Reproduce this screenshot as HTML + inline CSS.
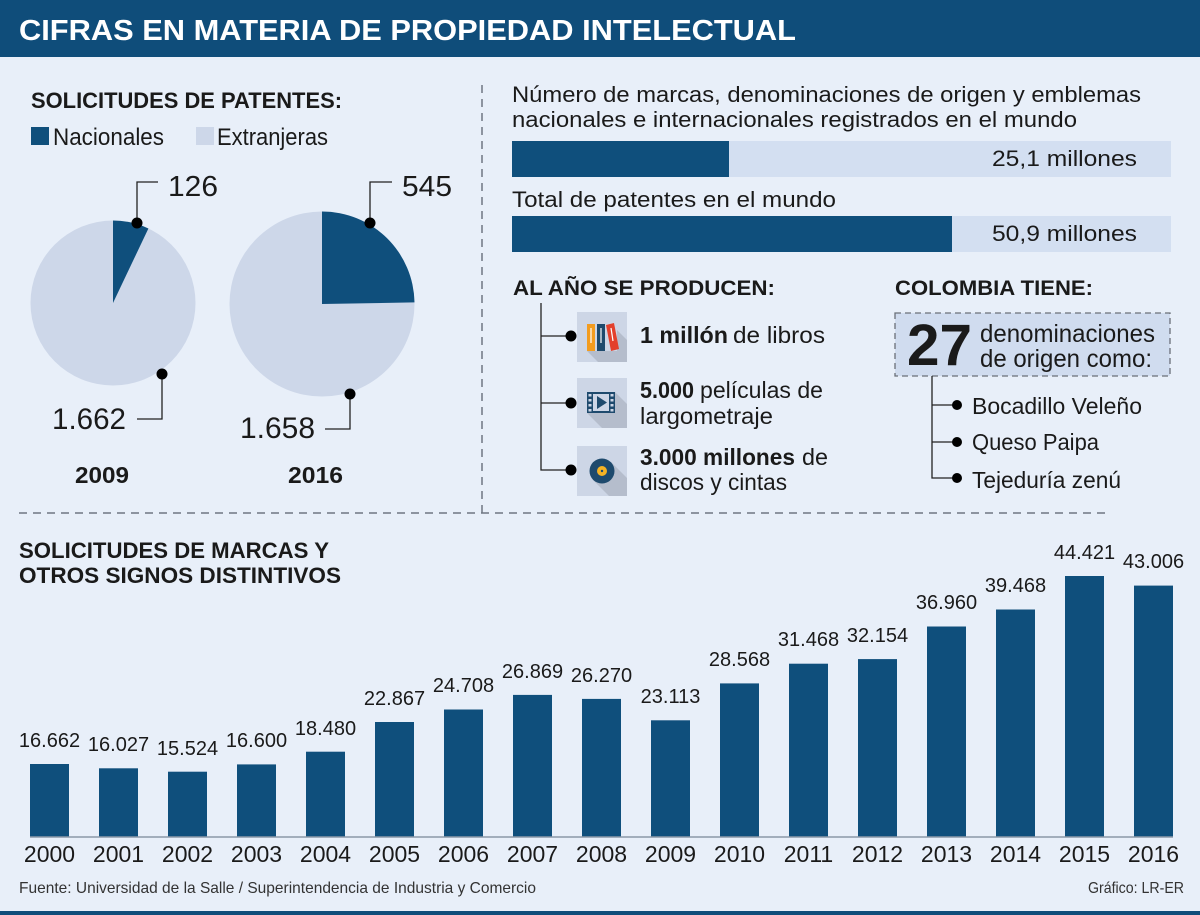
<!DOCTYPE html>
<html><head><meta charset="utf-8"><style>
html,body{margin:0;padding:0;background:#e8eff9;}
svg{display:block;}
text{font-family:"Liberation Sans",sans-serif;fill:#1a1a1a;}
.b{font-weight:bold;}
</style></head><body>
<svg width="1200" height="915" viewBox="0 0 1200 915" xmlns="http://www.w3.org/2000/svg">
<rect x="0" y="0" width="1200" height="915" fill="#e8eff9"/>
<!-- header -->
<rect x="0" y="0" width="1200" height="57" fill="#0f4d7a"/>
<text x="19" y="40" class="b" font-size="29" textLength="777" lengthAdjust="spacingAndGlyphs" style="fill:#fff">CIFRAS EN MATERIA DE PROPIEDAD INTELECTUAL</text>

<!-- dashed separators -->
<line x1="482" y1="85" x2="482" y2="513" stroke="#6f7682" stroke-width="1.5" stroke-dasharray="8,6"/>
<line x1="19" y1="513" x2="1108" y2="513" stroke="#6f7682" stroke-width="1.5" stroke-dasharray="8,6"/>

<!-- patentes -->
<text x="31" y="108" class="b" font-size="22" textLength="311" lengthAdjust="spacingAndGlyphs">SOLICITUDES DE PATENTES:</text>
<rect x="31" y="127" width="18" height="18" fill="#0f4f7c"/>
<text x="53" y="145" font-size="24" textLength="111" lengthAdjust="spacingAndGlyphs">Nacionales</text>
<rect x="196" y="127" width="18" height="18" fill="#cdd7e9"/>
<text x="217" y="145" font-size="24" textLength="111" lengthAdjust="spacingAndGlyphs">Extranjeras</text>

<!-- pie 2009 -->
<circle cx="113" cy="303" r="82.5" fill="#cdd7e9"/>
<path d="M113,303 L113,220.5 A82.5,82.5 0 0 1 148.4,228.5 Z" fill="#0f4f7c"/>
<polyline points="137,223 137,182 158,182" fill="none" stroke="#222" stroke-width="1.3"/>
<circle cx="137" cy="223" r="5.5" fill="#000"/>
<text x="168" y="196" font-size="29" textLength="50" lengthAdjust="spacingAndGlyphs">126</text>
<polyline points="162,374 162,419 137,419" fill="none" stroke="#222" stroke-width="1.3"/>
<circle cx="162" cy="374" r="5.5" fill="#000"/>
<text x="52" y="429" font-size="30" textLength="74" lengthAdjust="spacingAndGlyphs">1.662</text>
<text x="75" y="483" class="b" font-size="23" textLength="54" lengthAdjust="spacingAndGlyphs">2009</text>

<!-- pie 2016 -->
<circle cx="322" cy="304" r="92.5" fill="#cdd7e9"/>
<path d="M322,304 L322,211.5 A92.5,92.5 0 0 1 414.5,302.4 Z" fill="#0f4f7c"/>
<polyline points="370,223 370,182 392,182" fill="none" stroke="#222" stroke-width="1.3"/>
<circle cx="370" cy="223" r="5.5" fill="#000"/>
<text x="402" y="196" font-size="29" textLength="50" lengthAdjust="spacingAndGlyphs">545</text>
<polyline points="350,394 350,429 325,429" fill="none" stroke="#222" stroke-width="1.3"/>
<circle cx="350" cy="394" r="5.5" fill="#000"/>
<text x="240" y="438" font-size="30" textLength="75" lengthAdjust="spacingAndGlyphs">1.658</text>
<text x="288" y="483" class="b" font-size="23" textLength="55" lengthAdjust="spacingAndGlyphs">2016</text>

<!-- top right bars -->
<text x="512" y="102" font-size="22" textLength="629" lengthAdjust="spacingAndGlyphs">Número de marcas, denominaciones de origen y emblemas</text>
<text x="512" y="127" font-size="22" textLength="565" lengthAdjust="spacingAndGlyphs">nacionales e internacionales registrados en el mundo</text>
<rect x="512" y="141" width="659" height="36" fill="#d3dff1"/>
<rect x="512" y="141" width="217" height="36" fill="#0f4f7c"/>
<text x="1137" y="166" font-size="22" text-anchor="end" textLength="145" lengthAdjust="spacingAndGlyphs">25,1 millones</text>
<text x="512" y="207" font-size="22" textLength="324" lengthAdjust="spacingAndGlyphs">Total de patentes en el mundo</text>
<rect x="512" y="216" width="659" height="36" fill="#d3dff1"/>
<rect x="512" y="216" width="440" height="36" fill="#0f4f7c"/>
<text x="1137" y="241" font-size="22" text-anchor="end" textLength="145" lengthAdjust="spacingAndGlyphs">50,9 millones</text>

<!-- AL AÑO SE PRODUCEN -->
<text x="513" y="295" class="b" font-size="21" textLength="262" lengthAdjust="spacingAndGlyphs">AL AÑO SE PRODUCEN:</text>
<polyline points="541,303 541,470 571,470" fill="none" stroke="#222" stroke-width="1.3"/>
<line x1="541" y1="336" x2="571" y2="336" stroke="#222" stroke-width="1.3"/>
<line x1="541" y1="403" x2="571" y2="403" stroke="#222" stroke-width="1.3"/>
<circle cx="571" cy="336" r="5.5" fill="#000"/>
<circle cx="571" cy="403" r="5.5" fill="#000"/>
<circle cx="571" cy="470" r="5.5" fill="#000"/>
<!-- icon 1 books -->
<rect x="577" y="312" width="50" height="50" fill="#cdd6e6"/>
<polygon points="587,351 617,351 617,330 627,340 627,362 598,362" fill="#b5bdcc"/>
<rect x="587" y="324" width="8" height="27" fill="#f39c1f"/>
<rect x="597" y="324" width="8" height="27" fill="#1e4a6d"/>
<polygon points="606,325 614,323 619,349 611,351" fill="#e3402c"/>
<line x1="591" y1="328" x2="591" y2="343" stroke="#fff" stroke-width="1.2"/>
<line x1="601" y1="328" x2="601" y2="343" stroke="#fff" stroke-width="1.2"/>
<line x1="611" y1="328" x2="613" y2="341" stroke="#fff" stroke-width="1.2"/>
<!-- icon 2 film -->
<rect x="577" y="378" width="50" height="50" fill="#cdd6e6"/>
<polygon points="587,413 615,413 615,392 627,404 627,428 602,428" fill="#b5bdcc"/>
<rect x="587" y="392" width="28" height="21" fill="#1e4a6d"/>
<rect x="593" y="394" width="16" height="17" fill="#cdd6e6"/>
<polygon points="597,396 597,409 607,402.5" fill="#1e4a6d"/>
<rect x="588.5" y="394" width="3" height="2.5" fill="#cdd6e6"/><rect x="588.5" y="399" width="3" height="2.5" fill="#cdd6e6"/><rect x="588.5" y="404" width="3" height="2.5" fill="#cdd6e6"/><rect x="588.5" y="409" width="3" height="2.5" fill="#cdd6e6"/>
<rect x="610.5" y="394" width="3" height="2.5" fill="#cdd6e6"/><rect x="610.5" y="399" width="3" height="2.5" fill="#cdd6e6"/><rect x="610.5" y="404" width="3" height="2.5" fill="#cdd6e6"/><rect x="610.5" y="409" width="3" height="2.5" fill="#cdd6e6"/>
<!-- icon 3 disc -->
<rect x="577" y="446" width="50" height="50" fill="#cdd6e6"/>
<polygon points="593,480 611,462 627,478 627,496 609,496" fill="#b5bdcc"/>
<circle cx="602" cy="471" r="12.5" fill="#1e4a6d"/>
<circle cx="602" cy="471" r="5" fill="#f5b324"/>
<circle cx="602" cy="471" r="1.2" fill="#1e4a6d"/>
<!-- texts -->
<text x="640" y="343" class="b" font-size="23" textLength="88" lengthAdjust="spacingAndGlyphs">1 millón</text>
<text x="733" y="343" font-size="23" textLength="92" lengthAdjust="spacingAndGlyphs">de libros</text>
<text x="640" y="398" class="b" font-size="23" textLength="54" lengthAdjust="spacingAndGlyphs">5.000</text>
<text x="700" y="398" font-size="23" textLength="123" lengthAdjust="spacingAndGlyphs">películas de</text>
<text x="640" y="424" font-size="23" textLength="133" lengthAdjust="spacingAndGlyphs">largometraje</text>
<text x="640" y="465" class="b" font-size="23" textLength="155" lengthAdjust="spacingAndGlyphs">3.000 millones</text>
<text x="802" y="465" font-size="23" textLength="26" lengthAdjust="spacingAndGlyphs">de</text>
<text x="640" y="490" font-size="23" textLength="147" lengthAdjust="spacingAndGlyphs">discos y cintas</text>

<!-- COLOMBIA TIENE -->
<text x="895" y="295" class="b" font-size="21" textLength="198" lengthAdjust="spacingAndGlyphs">COLOMBIA TIENE:</text>
<rect x="895" y="313" width="275" height="63" fill="#d0dcef" stroke="#6a6f78" stroke-width="1.3" stroke-dasharray="6,4"/>
<text x="907" y="365" class="b" font-size="58" textLength="65" lengthAdjust="spacingAndGlyphs">27</text>
<text x="980" y="342" font-size="25" textLength="175" lengthAdjust="spacingAndGlyphs">denominaciones</text>
<text x="980" y="367" font-size="25" textLength="172" lengthAdjust="spacingAndGlyphs">de origen como:</text>
<polyline points="932,376 932,478 957,478" fill="none" stroke="#222" stroke-width="1.3"/>
<line x1="932" y1="405" x2="957" y2="405" stroke="#222" stroke-width="1.3"/>
<line x1="932" y1="442" x2="957" y2="442" stroke="#222" stroke-width="1.3"/>
<circle cx="957" cy="405" r="5" fill="#000"/>
<circle cx="957" cy="442" r="5" fill="#000"/>
<circle cx="957" cy="478" r="5" fill="#000"/>
<text x="972" y="414" font-size="23" textLength="170" lengthAdjust="spacingAndGlyphs">Bocadillo Veleño</text>
<text x="972" y="450" font-size="23" textLength="127" lengthAdjust="spacingAndGlyphs">Queso Paipa</text>
<text x="972" y="488" font-size="23" textLength="149" lengthAdjust="spacingAndGlyphs">Tejeduría zenú</text>

<!-- bar chart -->
<text x="19" y="558" class="b" font-size="22" textLength="310" lengthAdjust="spacingAndGlyphs">SOLICITUDES DE MARCAS Y</text>
<text x="19" y="583" class="b" font-size="22" textLength="322" lengthAdjust="spacingAndGlyphs">OTROS SIGNOS DISTINTIVOS</text>
<g fill="#0f4f7c">
<rect x="30" y="764.0" width="39" height="73.0"/>
<rect x="99" y="768.3" width="39" height="68.7"/>
<rect x="168" y="771.7" width="39" height="65.3"/>
<rect x="237" y="764.4" width="39" height="72.6"/>
<rect x="306" y="751.7" width="39" height="85.3"/>
<rect x="375" y="722.0" width="39" height="115.0"/>
<rect x="444" y="709.5" width="39" height="127.5"/>
<rect x="513" y="694.9" width="39" height="142.1"/>
<rect x="582" y="698.9" width="39" height="138.1"/>
<rect x="651" y="720.3" width="39" height="116.7"/>
<rect x="720" y="683.4" width="39" height="153.6"/>
<rect x="789" y="663.7" width="39" height="173.3"/>
<rect x="858" y="659.1" width="39" height="177.9"/>
<rect x="927" y="626.5" width="39" height="210.5"/>
<rect x="996" y="609.5" width="39" height="227.5"/>
<rect x="1065" y="576.0" width="39" height="261.0"/>
<rect x="1134" y="585.6" width="39" height="251.4"/>
</g>
<line x1="30" y1="837" x2="1173" y2="837" stroke="#8b98a8" stroke-width="1.5"/>
<g font-size="20" text-anchor="middle" style="fill:#222">
<text x="49.5" y="747">16.662</text>
<text x="118.5" y="751">16.027</text>
<text x="187.5" y="755">15.524</text>
<text x="256.5" y="747">16.600</text>
<text x="325.5" y="735">18.480</text>
<text x="394.5" y="705">22.867</text>
<text x="463.5" y="692">24.708</text>
<text x="532.5" y="678">26.869</text>
<text x="601.5" y="682">26.270</text>
<text x="670.5" y="703">23.113</text>
<text x="739.5" y="666">28.568</text>
<text x="808.5" y="646">31.468</text>
<text x="877.5" y="642">32.154</text>
<text x="946.5" y="609">36.960</text>
<text x="1015.5" y="592">39.468</text>
<text x="1084.5" y="559">44.421</text>
<text x="1153.5" y="568">43.006</text>
</g>
<g font-size="23" text-anchor="middle">
<text x="49.5" y="862">2000</text>
<text x="118.5" y="862">2001</text>
<text x="187.5" y="862">2002</text>
<text x="256.5" y="862">2003</text>
<text x="325.5" y="862">2004</text>
<text x="394.5" y="862">2005</text>
<text x="463.5" y="862">2006</text>
<text x="532.5" y="862">2007</text>
<text x="601.5" y="862">2008</text>
<text x="670.5" y="862">2009</text>
<text x="739.5" y="862">2010</text>
<text x="808.5" y="862">2011</text>
<text x="877.5" y="862">2012</text>
<text x="946.5" y="862">2013</text>
<text x="1015.5" y="862">2014</text>
<text x="1084.5" y="862">2015</text>
<text x="1153.5" y="862">2016</text>
</g>

<!-- footer -->
<text x="19" y="893" font-size="16" textLength="517" lengthAdjust="spacingAndGlyphs" style="fill:#333">Fuente: Universidad de la Salle / Superintendencia de Industria y Comercio</text>
<text x="1184" y="893" font-size="16" text-anchor="end" textLength="96" lengthAdjust="spacingAndGlyphs" style="fill:#333">Gráfico: LR-ER</text>
<rect x="0" y="911" width="1200" height="4" fill="#0f4d7a"/>
</svg>
</body></html>
